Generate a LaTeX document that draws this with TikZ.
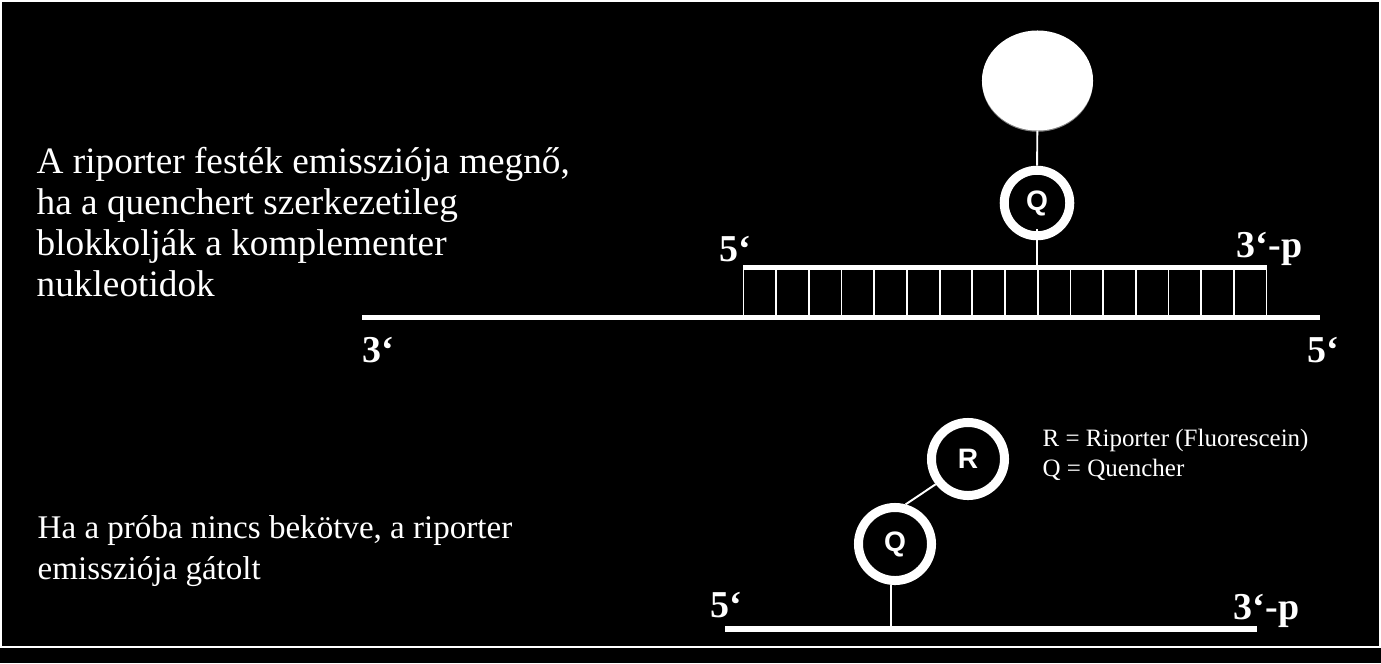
\documentclass[tikz,border=0pt]{standalone}
\usepackage{fontspec}
\setmainfont{Liberation Serif}
\newfontfamily\labelfont{Liberation Sans}
\usetikzlibrary{shapes.geometric}
\tikzset{
    ring/.style={circle,draw=white,line width=2.56pt,minimum size=0.655cm,inner sep=0pt,text=white,font=\labelfont\bfseries\fontsize{8}{9}\selectfont},
    bigring/.style={ring,minimum size=0.73cm},
    bar/.style={white,line width=1.5pt},
    stem/.style={white,line width=0.55pt},
    endlabel/.style={text=white,inner sep=0pt,font=\bfseries\fontsize{10.8}{12}\selectfont},
    bigtext/.style={text=white,inner sep=0pt,anchor=west,align=left,font=\fontsize{10.6}{11.67}\selectfont},
    midtext/.style={text=white,inner sep=0pt,anchor=west,align=left,font=\fontsize{9.4}{11.67}\selectfont},
    legend/.style={text=white,inner sep=0pt,anchor=west,align=left,font=\fontsize{7.1}{8.5}\selectfont},
}
\begin{document}
\begin{tikzpicture}[x=0.01cm,y=-0.01cm]
    \useasboundingbox (0,0) rectangle (1381,663);
    \fill[black] (0,0) rectangle (1381,663);
    \draw[white,line width=0.57pt] (1,1) rectangle (1380,647);
    % upper probe
    \node[ellipse,fill=white,preaction={fill=gray,transform canvas={yshift=-0.35pt}},minimum width=1.11cm,minimum height=1cm,inner sep=0pt] (dye) at (1037.5,80.5) {};
    \node[ring] (qa) at (1037,203) {Q};
    \coordinate (nub) at (1037,229);
    \coordinate (ttop) at (1037,267.5);
    \coordinate (tl) at (743,267.5);
    \coordinate (tr) at (1267,267.5);
    \coordinate (bl) at (362,317.5);
    \coordinate (br) at (1320,317.5);
    \draw[stem] (dye) -- (qa);
    \draw[stem] (nub) -- (ttop);
    \draw[bar] (tl) -- (tr);
    \draw[bar] (bl) -- (br);
    \foreach \i in {0,...,16} {
        \coordinate (ca\i) at (743.5+\i*32.69,267.5);
        \coordinate (cb\i) at (743.5+\i*32.69,317.5);
        \draw[white,line width=0.5pt] (ca\i) -- (cb\i);
    }
    \node[endlabel] (fa) at (735,249) {5‘};
    \node[endlabel] (pa) at (1269.5,249) {3‘-p};
    \node[endlabel] (tb) at (378,350) {3‘};
    \node[endlabel] (fb) at (1323,350) {5‘};
    % lower probe
    \node[bigring] (qb) at (895,544) {Q};
    \node[bigring] (rb) at (968,459) {R};
    \coordinate (qfoot) at (891,629);
    \coordinate (pl) at (725,629);
    \coordinate (pr) at (1257,629);
    \draw[stem] (qb.75) -- (rb.218);
    \draw[stem] (qb.south -| qfoot) -- (qfoot);
    \draw[bar] (pl) -- (pr);
    \node[endlabel] (fc) at (726,605) {5‘};
    \node[endlabel] (pc) at (1266.5,611) {3‘-p};
    % texts
    \node[bigtext] (upper) at (36,222) {A riporter festék emissziója megnő,\\ha a quenchert szerkezetileg\\blokkolják a komplementer\\nukleotidok};
    \node[midtext] (lower) at (37,551) {Ha a próba nincs bekötve, a riporter\\emissziója gátolt};
    \node[legend] (key) at (1042,455) {R = Riporter (Fluorescein)\\Q = Quencher};
\end{tikzpicture}
\end{document}
